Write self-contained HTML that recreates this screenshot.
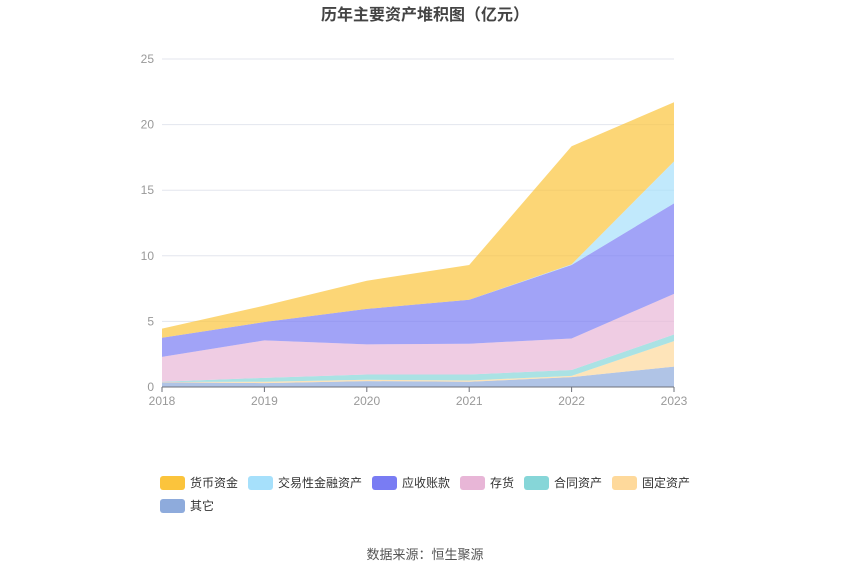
<!DOCTYPE html>
<html><head><meta charset="utf-8"><style>
body{margin:0;background:#fff;font-family:"Liberation Sans","Noto Sans CJK SC",sans-serif;}
svg text{font-family:"Liberation Sans","Noto Sans CJK SC",sans-serif;}
</style></head><body>
<svg id="c" width="850" height="575">
<text x="425" y="20" text-anchor="middle" font-size="16" font-weight="bold" fill="#444">历年主要资产堆积图（亿元）</text>
<g id="grid"></g><g id="areas"></g><g id="axes"></g><g id="legend"></g>
<text x="425" y="559" text-anchor="middle" font-size="13" fill="#555">数据来源：恒生聚源</text>
</svg>
<script>
const years=["2018","2019","2020","2021","2022","2023"];
const seriesNames=["其它","固定资产","合同资产","存货","应收账款","交易性金融资产","货币资金"];
const other=[0.35,0.3,0.45,0.4,0.75,1.55];
const fixedAssets=[0.03,0.1,0.1,0.1,0.1,1.95];
const contractAssets=[0.02,0.3,0.4,0.45,0.45,0.5];
const inventory=[1.9,2.85,2.3,2.35,2.4,3.1];
const receivables=[1.45,1.4,2.7,3.35,5.6,6.9];
const tradingFin=[0,0,0,0,0.05,3.2];
const cash=[0.7,1.25,2.15,2.65,9.0,4.5];
const yTicks=[0,5,10,15,20,25];
const seriesData=[other,fixedAssets,contractAssets,inventory,receivables,tradingFin,cash];
const colors=["#8eabdc","#fed99b","#86d6d8","#e8b6d7","#797cf3","#a6e0fb","#fbc43c"];
const ns="http://www.w3.org/2000/svg";
const X0=162,X1=674,Y0=387,Y1=59,YMAX=25;
const xs=i=>X0+(X1-X0)*i/(years.length-1);
const ys=v=>Y0-(Y0-Y1)*v/YMAX;
function mk(t,a,p){const e=document.createElementNS(ns,t);for(const k in a)e.setAttribute(k,a[k]);p.appendChild(e);return e;}
const grid=document.getElementById('grid'),axes=document.getElementById('axes'),areas=document.getElementById('areas'),legend=document.getElementById('legend');
yTicks.forEach(t=>{
 if(t>0){const l=mk('line',{x1:X0,x2:X1,y1:ys(t),y2:ys(t),stroke:'#e3e6ee'},grid);
 
 }
 const tx=mk('text',{x:154,y:ys(t)+4,'text-anchor':'end','font-size':12,fill:'#999'},axes);tx.textContent=t;
 
 
});
let base=years.map(()=>0);
seriesData.forEach((s,k)=>{
 const top=base.map((b,i)=>b+s[i]);
 let d='M'+years.map((y,i)=>xs(i)+','+ys(top[i])).join('L');
 for(let i=years.length-1;i>=0;i--)d+='L'+xs(i)+','+ys(base[i]);
 const p=mk('path',{d:d+'Z',fill:colors[k],'fill-opacity':0.7},areas);
 
 
 base=top;
});
const ax=mk('line',{x1:X0,x2:X1,y1:Y0,y2:Y0,stroke:'#6e7079'},axes);


years.forEach((y,i)=>{
 mk('line',{x1:xs(i),x2:xs(i),y1:Y0,y2:Y0+5,stroke:'#6e7079'},axes);
 const t=mk('text',{x:xs(i),y:Y0+18,'text-anchor':'middle','font-size':12,fill:'#999'},axes);t.textContent=y;
 
 
});
const legOrder=[6,5,4,3,2,1,0];
const legPos=[[160,483],[248,483],[372,483],[460,483],[524,483],[612,483],[160,506]];
legOrder.forEach((k,j)=>{
 const [x,y]=legPos[j];
 const g=mk('g',{},legend);
 
 
 mk('rect',{x:x,y:y-7,width:25,height:14,rx:3,fill:colors[k]},g);
 const t=mk('text',{x:x+30,y:y+4,'font-size':12,fill:'#333'},g);t.textContent=seriesNames[k];
});
</script>
</body></html>
